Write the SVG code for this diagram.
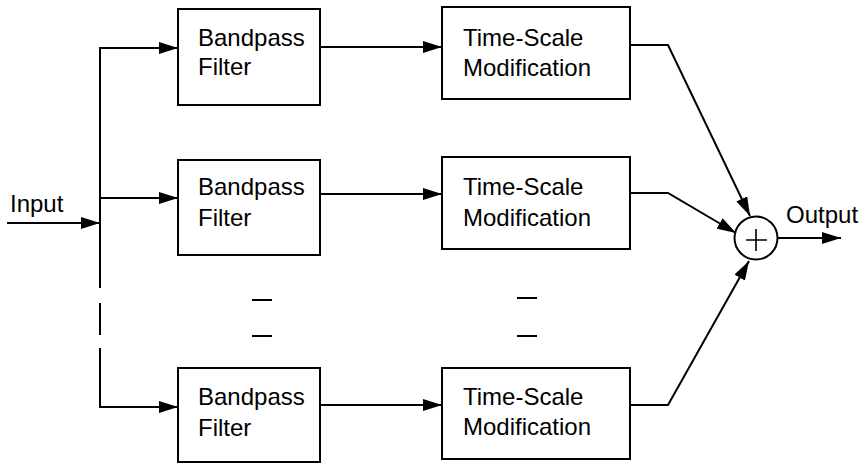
<svg xmlns="http://www.w3.org/2000/svg" width="861" height="465" viewBox="0 0 861 465">
  <defs>
    <marker id="arrow" markerWidth="20" markerHeight="12" refX="19" refY="6" orient="auto" markerUnits="userSpaceOnUse">
      <path d="M0,0 L19,6 L0,12 Z" fill="#000"/>
    </marker>
  </defs>
  <style>
    .box { fill: #fff; stroke: #000; stroke-width: 2; }
    .wire { fill: none; stroke: #000; stroke-width: 2; }
    .thin { fill: none; stroke: #000; stroke-width: 1.6; }
    .lbl { font-family: "Liberation Sans", Arial, sans-serif; font-size: 24px; fill: #000; }
  </style>
  <rect width="861" height="465" fill="#fff"/>

  <!-- connectors -->
  <g id="connectors">
    <!-- input and splitter bus -->
    <path class="wire" d="M7,223 H100" marker-end="url(#arrow)"/>
    <path class="wire" d="M100,48 V288 M100,303 V335 M100,348 V407"/>
    <path class="wire" d="M99,48 H178" marker-end="url(#arrow)"/>
    <path class="wire" d="M100,198 H178" marker-end="url(#arrow)"/>
    <path class="wire" d="M99,407 H178" marker-end="url(#arrow)"/>
    <!-- filter to modification -->
    <path class="wire" d="M320,47 H442" marker-end="url(#arrow)"/>
    <path class="wire" d="M320,194 H442" marker-end="url(#arrow)"/>
    <path class="wire" d="M320,405 H442" marker-end="url(#arrow)"/>
    <!-- modification to summer -->
    <path class="wire" d="M630,45 H668 L750,216" marker-end="url(#arrow)"/>
    <path class="wire" d="M630,193 H668 L736,233" marker-end="url(#arrow)"/>
    <path class="wire" d="M630,405 H668 L749,261" marker-end="url(#arrow)"/>
    <!-- output -->
    <path class="wire" d="M777,238 H841" marker-end="url(#arrow)"/>
    <!-- ellipsis dashes -->
    <path class="wire" d="M252,300 H272 M252,336 H272 M517,298 H537 M517,336 H537"/>
  </g>

  <text class="lbl" x="10" y="212">Input</text>
  <text class="lbl" x="786" y="223">Output</text>

  <g id="bp1">
    <rect class="box" x="178" y="9" width="142" height="96"/>
    <text class="lbl" x="198" y="46">Bandpass</text>
    <text class="lbl" x="198" y="75">Filter</text>
  </g>
  <g id="bp2">
    <rect class="box" x="178" y="160" width="142" height="95"/>
    <text class="lbl" x="198" y="195">Bandpass</text>
    <text class="lbl" x="198" y="226">Filter</text>
  </g>
  <g id="bp3">
    <rect class="box" x="178" y="368" width="142" height="94"/>
    <text class="lbl" x="198" y="405">Bandpass</text>
    <text class="lbl" x="198" y="436">Filter</text>
  </g>

  <g id="tsm1">
    <rect class="box" x="442" y="7" width="188" height="92"/>
    <text class="lbl" x="463" y="46">Time-Scale</text>
    <text class="lbl" x="463" y="76">Modification</text>
  </g>
  <g id="tsm2">
    <rect class="box" x="442" y="157" width="188" height="92"/>
    <text class="lbl" x="463" y="195">Time-Scale</text>
    <text class="lbl" x="463" y="226">Modification</text>
  </g>
  <g id="tsm3">
    <rect class="box" x="442" y="368" width="188" height="91"/>
    <text class="lbl" x="463" y="405">Time-Scale</text>
    <text class="lbl" x="463" y="435">Modification</text>
  </g>

  <g id="summer">
    <circle class="wire" cx="756" cy="238" r="21.5"/>
    <path class="thin" d="M746,240 H767 M756,229 V251"/>
  </g>
</svg>
